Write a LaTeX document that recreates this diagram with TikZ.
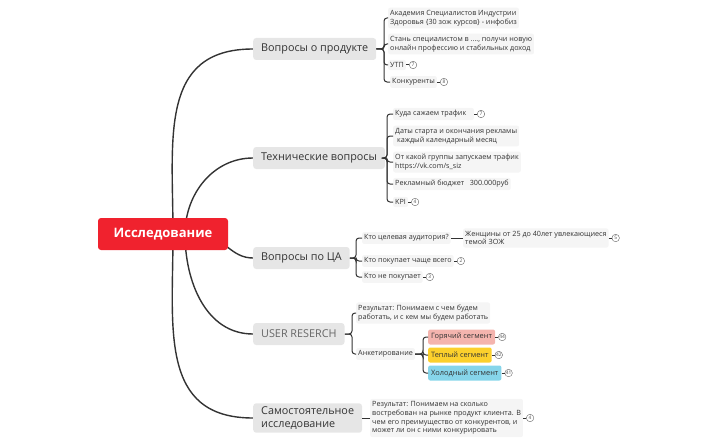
\documentclass[tikz,border=0pt]{standalone}
\usepackage{fontspec}
\setmainfont{Open Sans}
\usetikzlibrary{positioning,backgrounds}

\definecolor{rootred}{HTML}{F0222E}
\definecolor{branchgray}{HTML}{E6E6E6}
\definecolor{leafgray}{HTML}{F5F5F5}
\definecolor{hotseg}{HTML}{F4B4AE}
\definecolor{warmseg}{HTML}{FCD02C}
\definecolor{coldseg}{HTML}{86D5EA}
\definecolor{linegray}{HTML}{333333}

\tikzset{
	rootbox/.style={fill=rootred, rounded corners=3pt, text=white,
		font=\bfseries\fontsize{13}{15}\selectfont,
		minimum width=130pt, minimum height=32pt},
	branch/.style={fill=branchgray, rounded corners=3pt, text=black!80,
		font=\fontsize{10.8}{13}\selectfont, align=left,
		inner xsep=8pt, minimum height=22pt, anchor=west},
	leaf/.style={fill=leafgray, rounded corners=2pt, text=black!80,
		font=\fontsize{7.2}{8.8}\selectfont, align=left,
		inner xsep=2pt, inner ysep=2.5pt, anchor=west},
	segbox/.style={rounded corners=2pt, text=black!80,
		font=\fontsize{7.4}{9}\selectfont, inner xsep=3pt,
		minimum height=15pt, anchor=west},
	badge/.style={circle, draw=black!60, inner sep=0pt, minimum size=7.5pt,
		font=\fontsize{4.8}{5}\selectfont, text=black!70},
	mainlink/.style={draw=linegray, line width=1.4pt},
	bracket/.style={draw=linegray, line width=1pt, rounded corners=3pt}
}

\begin{document}
\begin{tikzpicture}[x=1pt,y=1pt]

	\useasboundingbox (0,0) rectangle (717,-444);

	\node[rootbox] (root) at (163,-234) {Исследование};

	\node[branch] (prod) at (253,-49) {Вопросы о продукте};
	\node[branch] (tech) at (253,-158) {Технические вопросы};
	\node[branch] (aud) at (253,-258) {Вопросы по ЦА};
	\node[branch, text=black!60] (user) at (253,-334) {USER RESERCH};
	\node[branch] (self) at (253,-418) {Самостоятельное\\исследование};

	% Вопросы о продукте
	\node[leaf] (prod1) at (388,-18) {Академия Специалистов Индустрии\\Здоровья \{30 зож курсов\} - инфобиз};
	\node[leaf] (prod2) at (388,-44) {Стань специалистом в ...., получи новую\\онлайн профессию и стабильных доход};
	\node[leaf] (prod3) at (388,-65) {УТП};
	\node[leaf] (prod4) at (390,-82) {Конкуренты};
	\node[badge, right=3pt of prod3] (prod3n) {7};
	\node[badge, right=3pt of prod4] (prod4n) {8};

	% Технические вопросы
	\node[leaf] (tech1) at (393,-114) {Куда сажаем трафик\ \ \ };
	\node[leaf] (tech2) at (393,-136) {Даты старта и окончания рекламы\\\ каждый календарный месяц};
	\node[leaf] (tech3) at (393,-162) {От какой группы запускаем трафик\\https://vk.com/s\_siz};
	\node[leaf] (tech4) at (393,-184) {Рекламный бюджет \ \ 300.000руб};
	\node[leaf] (tech5) at (393,-202) {KPI};
	\node[badge, right=3pt of tech1] (tech1n) {7};
	\node[badge, right=3pt of tech5] (tech5n) {4};

	% Вопросы по ЦА
	\node[leaf] (aud1) at (362,-238) {Кто целевая аудитория?};
	\node[leaf] (aud1a) at (463,-238) {Женщины от 25 до 40лет увлекающиеся\\темой ЗОЖ};
	\node[leaf] (aud2) at (362,-261) {Кто покупает чаще всего};
	\node[leaf] (aud3) at (362,-277) {Кто не покупает};
	\node[badge, right=3pt of aud1a] (aud1an) {5};
	\node[badge, right=3pt of aud2] (aud2n) {2};
	\node[badge, right=3pt of aud3] (aud3n) {3};

	% USER RESERCH
	\node[leaf] (user1) at (356,-313) {Результат: Понимаем с чем будем\\работать, и с кем мы будем работать};
	\node[leaf] (user2) at (356,-354) {Анкетирование};
	\node[segbox, fill=hotseg] (hot) at (428,-337) {Горячий сегмент};
	\node[segbox, fill=warmseg] (warm) at (428,-355) {Теплый сегмент};
	\node[segbox, fill=coldseg] (cold) at (428,-373) {Холодный сегмент};
	\node[badge, right=3pt of hot] (hotn) {44};
	\node[badge, right=3pt of warm] (warmn) {42};
	\node[badge, right=3pt of cold] (coldn) {41};

	% Самостоятельное исследование
	\node[leaf] (self1) at (370,-418) {Результат: Понимаем на сколько\\востребован на рынке продукт клиента. В\\чем его преимущество от конкурентов, и\\может ли он с ними конкурировать};
	\node[badge, right=3pt of self1] (self1n) {4};

	\begin{scope}[on background layer]
		\draw[mainlink] ([xshift=10pt]root.center) to[out=90,in=180,looseness=1.2] (prod.west);
		\draw[mainlink] ([xshift=22pt]root.center) to[out=90,in=180] (tech.west);
		\draw[mainlink] ([xshift=40pt]root.center) to[out=-10,in=180] (aud.west);
		\draw[mainlink] ([xshift=22pt]root.center) to[out=-90,in=180] (user.west);
		\draw[mainlink] ([xshift=10pt]root.center) to[out=-90,in=180,looseness=1.2] (self.west);
	\end{scope}

	\draw[bracket] (prod.east) -- ([xshift=-4pt]prod1.west |- prod.east) |- (prod1.west);
	\draw[bracket] (prod.east) -- ([xshift=-4pt]prod1.west |- prod.east) |- (prod2.west);
	\draw[bracket] (prod.east) -- ([xshift=-4pt]prod1.west |- prod.east) |- (prod3.west);
	\draw[bracket] (prod.east) -- ([xshift=-4pt]prod1.west |- prod.east) |- (prod4.west);

	\draw[bracket] (tech.east) -- ([xshift=-6pt]tech1.west |- tech.east) |- (tech1.west);
	\draw[bracket] (tech.east) -- ([xshift=-6pt]tech1.west |- tech.east) |- (tech2.west);
	\draw[bracket] (tech.east) -- ([xshift=-6pt]tech1.west |- tech.east) |- (tech3.west);
	\draw[bracket] (tech.east) -- ([xshift=-6pt]tech1.west |- tech.east) |- (tech4.west);
	\draw[bracket] (tech.east) -- ([xshift=-6pt]tech1.west |- tech.east) |- (tech5.west);

	\draw[bracket] (aud.east) -- ([xshift=-6pt]aud1.west |- aud.east) |- (aud1.west);
	\draw[bracket] (aud.east) -- ([xshift=-6pt]aud1.west |- aud.east) |- (aud2.west);
	\draw[bracket] (aud.east) -- ([xshift=-6pt]aud1.west |- aud.east) |- (aud3.west);
	\draw[bracket] (aud1.east) -- (aud1a.west);

	\draw[bracket] (user.east) -- ([xshift=-4pt]user1.west |- user.east) |- (user1.west);
	\draw[bracket] (user.east) -- ([xshift=-4pt]user1.west |- user.east) |- (user2.west);
	\draw[bracket] (user2.east) -- ([xshift=-5pt]hot.west |- user2.east) |- (hot.west);
	\draw[bracket] (user2.east) -- ([xshift=-5pt]hot.west |- user2.east) |- (warm.west);
	\draw[bracket] (user2.east) -- ([xshift=-5pt]hot.west |- user2.east) |- (cold.west);

	\draw[bracket] (self.east) -- (self1.west);

	\draw[bracket] (prod3.east) -- (prod3n.west);
	\draw[bracket] (prod4.east) -- (prod4n.west);
	\draw[bracket] (tech1.east) -- (tech1n.west);
	\draw[bracket] (tech5.east) -- (tech5n.west);
	\draw[bracket] (aud1a.east) -- (aud1an.west);
	\draw[bracket] (aud2.east) -- (aud2n.west);
	\draw[bracket] (aud3.east) -- (aud3n.west);
	\draw[bracket] (hot.east) -- (hotn.west);
	\draw[bracket] (warm.east) -- (warmn.west);
	\draw[bracket] (cold.east) -- (coldn.west);
	\draw[bracket] (self1.east) -- (self1n.west);

\end{tikzpicture}
\end{document}
